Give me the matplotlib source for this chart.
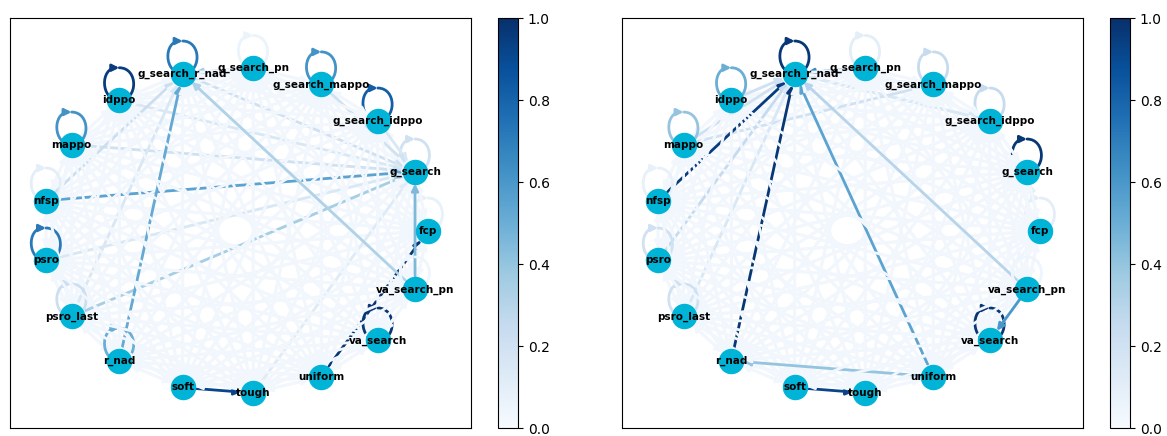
import numpy as np
import matplotlib
matplotlib.use("Agg")
import matplotlib.pyplot as plt
from matplotlib.patches import FancyArrowPatch
from matplotlib.path import Path
from matplotlib.colors import Normalize
from matplotlib.cm import ScalarMappable

NODES = ["fcp", "g_search", "g_search_idppo", "g_search_mappo", "g_search_pn",
         "g_search_r_nad", "idppo", "mappo", "nfsp", "psro", "psro_last", "r_nad",
         "soft", "tough", "uniform", "va_search", "va_search_pn"]

# weight of every edge not listed below (the pale mesh)
LEFT_BASE = 0.03
RIGHT_BASE = 0.03

# (source, target, weight); weight 0 = no edge drawn
LEFT_EDGES = [
    ("g_search_r_nad", "g_search_r_nad", 0.72),
    ("idppo", "idppo", 0.95),
    ("g_search_pn", "g_search_pn", 0.06),
    ("g_search_mappo", "g_search_mappo", 0.62),
    ("g_search_idppo", "g_search_idppo", 0.82),
    ("g_search", "g_search", 0.20),
    ("fcp", "fcp", 0.08),
    ("va_search_pn", "va_search_pn", 0.05),
    ("va_search", "va_search", 0.97),
    ("r_nad", "r_nad", 0.50),
    ("psro_last", "psro_last", 0.22),
    ("psro", "psro", 0.72),
    ("nfsp", "nfsp", 0.10),
    ("mappo", "mappo", 0.62),
    ("soft", "soft", 0.0),
    ("tough", "tough", 0.0),
    ("uniform", "uniform", 0.0),
    ("tough", "soft", 0.0),
    ("nfsp", "g_search", 0.55),
    ("nfsp", "g_search_r_nad", 0.22),
    ("r_nad", "g_search_r_nad", 0.52),
    ("va_search_pn", "g_search_r_nad", 0.32),
    ("va_search_pn", "g_search", 0.45),
    ("uniform", "fcp", 0.97),
    ("soft", "tough", 0.92),
    ("psro_last", "g_search", 0.35),
    ("psro_last", "g_search_r_nad", 0.15),
    ("mappo", "g_search", 0.20),
    ("psro", "g_search", 0.15),
    ("g_search_mappo", "g_search", 0.20),
    ("g_search_idppo", "g_search", 0.15),
    ("g_search_pn", "g_search_r_nad", 0.35),
    ("g_search_r_nad", "g_search", 0.20),
    ("idppo", "g_search", 0.15),
    ("tough", "g_search", 0.12),
]

RIGHT_EDGES = [
    ("g_search_r_nad", "g_search_r_nad", 0.97),
    ("idppo", "idppo", 0.50),
    ("mappo", "mappo", 0.40),
    ("nfsp", "nfsp", 0.08),
    ("psro", "psro", 0.20),
    ("psro_last", "psro_last", 0.20),
    ("g_search_pn", "g_search_pn", 0.10),
    ("g_search_mappo", "g_search_mappo", 0.25),
    ("g_search_idppo", "g_search_idppo", 0.25),
    ("g_search", "g_search", 0.97),
    ("fcp", "fcp", 0.10),
    ("va_search_pn", "va_search_pn", 0.05),
    ("va_search", "va_search", 0.97),
    ("r_nad", "r_nad", 0.0),
    ("soft", "soft", 0.0),
    ("tough", "tough", 0.0),
    ("uniform", "uniform", 0.0),
    ("tough", "soft", 0.0),
    ("nfsp", "g_search_r_nad", 0.95),
    ("r_nad", "g_search_r_nad", 0.97),
    ("uniform", "g_search_r_nad", 0.55),
    ("uniform", "r_nad", 0.40),
    ("va_search_pn", "g_search_r_nad", 0.30),
    ("va_search_pn", "va_search", 0.60),
    ("soft", "tough", 0.92),
    ("mappo", "g_search_r_nad", 0.20),
    ("psro", "g_search_r_nad", 0.25),
    ("psro_last", "g_search_r_nad", 0.15),
    ("idppo", "g_search_r_nad", 0.20),
    ("g_search_mappo", "g_search_r_nad", 0.25),
    ("g_search_pn", "g_search_r_nad", 0.65),
    ("g_search_idppo", "g_search_r_nad", 0.20),
    ("fcp", "g_search", 0.10),
    ("mappo", "g_search_mappo", 0.20),
    ("g_search_r_nad", "g_search_idppo", 0.15),
]

NODE_COLOR = "#00b4d8"
NODE_SIZE = 300
CMAP = plt.cm.Blues

n = len(NODES)
ang = 2 * np.pi * np.arange(n) / n
pos = {name: np.array([np.cos(a), np.sin(a)]) for name, a in zip(NODES, ang)}
loop_h = 0.1 * (max(p[1] for p in pos.values()) - min(p[1] for p in pos.values()))
shrink = np.sqrt(NODE_SIZE) / 2


def weight_matrix(edges, base):
    W = np.full((n, n), base)
    for s, t, w in edges:
        W[NODES.index(s), NODES.index(t)] = w
    return W


def draw_graph(ax, W):
    ax.set_xlim(-1.17, 1.223)
    ax.set_ylim(-1.21, 1.302)
    for i, s in enumerate(NODES):
        for j, t in enumerate(NODES):
            if W[i, j] <= 0:
                continue
            c = CMAP(W[i, j])
            if i == j:
                v, h = loop_h, loop_h * 0.5
                offs = np.array([[0, v], [h, v], [h, 0], [0, 0],
                                 [-h, 0], [-h, v], [0, v]])
                path = Path(pos[s] + offs, [1, 4, 4, 4, 4, 4, 4])
                arr = FancyArrowPatch(path=path, arrowstyle="-|>", mutation_scale=10,
                                      color=c, linewidth=2, zorder=1)
            else:
                arr = FancyArrowPatch(pos[s], pos[t], arrowstyle="-|>", mutation_scale=10,
                                      color=c, linewidth=2, shrinkA=shrink, shrinkB=shrink,
                                      zorder=1)
            ax.add_patch(arr)
    xy = np.array([pos[k] for k in NODES])
    ax.scatter(xy[:, 0], xy[:, 1], s=NODE_SIZE, c=NODE_COLOR, zorder=2)
    for k in NODES:
        ax.text(pos[k][0], pos[k][1], k, ha="center", va="center",
                fontsize=7.5, fontweight="bold", zorder=3)
    ax.set_xticks([])
    ax.set_yticks([])


fig = plt.figure(figsize=(11.67, 4.36), dpi=100)
W_left = weight_matrix(LEFT_EDGES, LEFT_BASE)
W_right = weight_matrix(RIGHT_EDGES, RIGHT_BASE)

for x0, W in ((10, W_left), (622, W_right)):
    ax = fig.add_axes([x0 / 1167, 8 / 436, 461 / 1167, 410 / 436])
    draw_graph(ax, W)
    cax = fig.add_axes([(x0 + 488) / 1167, 8 / 436, 20 / 1167, 410 / 436])
    fig.colorbar(ScalarMappable(norm=Normalize(0, 1), cmap=CMAP), cax=cax)

fig.savefig("out.png", dpi=100)
